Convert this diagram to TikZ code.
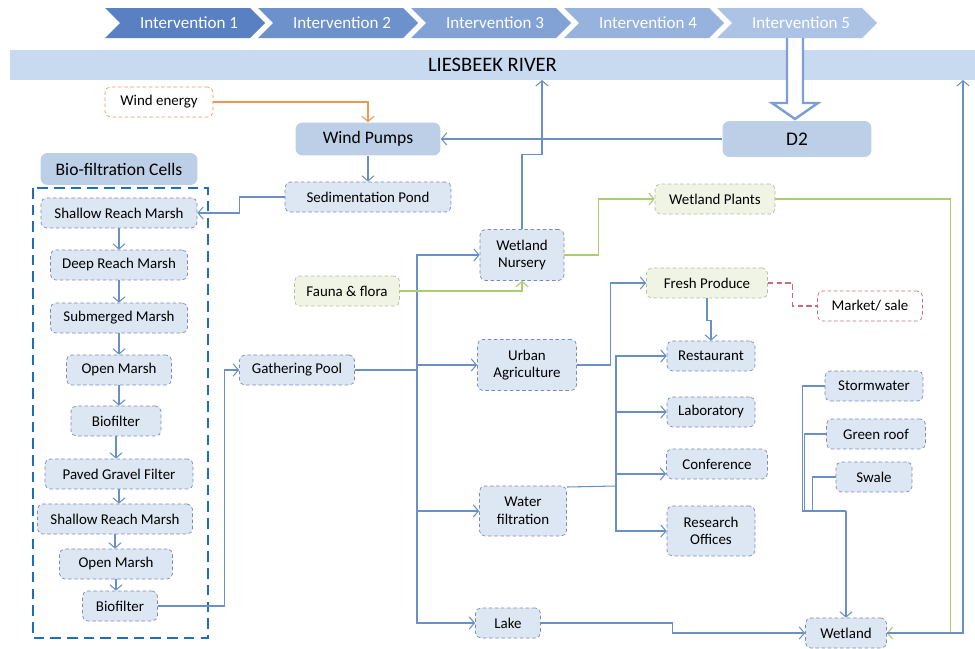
\documentclass[tikz,border=0pt]{standalone}
\usepackage{fontspec}
\setmainfont{Carlito}
\usetikzlibrary{arrows.meta}

\definecolor{flowblue}{RGB}{104,143,200}
\definecolor{boxfill}{RGB}{221,231,243}
\definecolor{boxedge}{RGB}{120,140,175}
\definecolor{headfill}{RGB}{188,207,231}
\definecolor{riverfill}{RGB}{200,218,240}
\definecolor{greenline}{RGB}{172,204,112}
\definecolor{greenedge}{RGB}{180,190,150}
\definecolor{greenfill}{RGB}{240,244,228}
\definecolor{orangeline}{RGB}{240,150,80}
\definecolor{rededge}{RGB}{205,105,115}
\definecolor{cellblue}{RGB}{30,110,190}
\definecolor{chevdark}{RGB}{88,128,194}
\definecolor{chevlight}{RGB}{172,195,230}
\definecolor{hollowedge}{RGB}{125,158,212}

\begin{document}
\begin{tikzpicture}[x=0.02cm,y=-0.02cm,font=\fontsize{8.5}{10}\selectfont,
  box/.style={draw=boxedge,dash pattern=on 2pt off 1.5pt,fill=boxfill,rounded corners=3pt,
    align=center,inner sep=1pt,minimum height=0.6cm},
  gbox/.style={box,draw=greenedge,fill=greenfill},
  head/.style={fill=headfill,rounded corners=4pt,font=\fontsize{10}{12}\selectfont},
  flow/.style={flowblue,line width=0.6pt,-{Straight Barb[length=3pt,width=7pt]}},
  gflow/.style={flow,greenline},
  link/.style={flowblue,line width=0.6pt}]
\useasboundingbox (0,0) rectangle (975,649);

% timeline of interventions
\foreach \i [evaluate=\i as \xa using 105+153*\i,
             evaluate=\i as \p using 100-25*\i,
             evaluate=\i as \n using int(\i+1)] in {0,...,4} {
  \fill[chevdark!\p!chevlight] (\xa,8) -- (\xa+145,8) -- (\xa+160,23) -- (\xa+145,38)
    -- (\xa,38) -- (\xa+15,23) -- cycle;
  \node[white,font=\fontsize{9.7}{12}\selectfont] (chev\n) at (\xa+84,23) {Intervention \n};
}

% the river
\node[fill=riverfill,minimum width=19.3cm,minimum height=0.6cm,inner sep=0pt,
  font=\fontsize{11.7}{14}\selectfont] (river) at (492.5,65) {LIESBEEK RIVER};
\coordinate (rivA) at (542,80);
\coordinate (rivB) at (963,80);

% hollow arrow down to D2
\filldraw[fill=white,draw=hollowedge,line width=1.4pt,line join=miter]
  (787,38) -- (787,103) -- (772,103) -- (795,119) -- (818,103) -- (803,103) -- (803,38);

\node[head,minimum width=2.98cm,minimum height=0.72cm,font=\fontsize{11}{13}\selectfont] (d2) at (797,139) {D2};
\node[head,minimum width=2.9cm,minimum height=0.66cm] (wpump) at (368,139) {Wind Pumps};
\node[head,minimum width=3.14cm,minimum height=0.64cm] (cells) at (119,169) {Bio-filtration Cells};
\node[box,draw=orangeline,fill=white,minimum width=2.16cm] (wind) at (159,102) {Wind energy};
\node[box,minimum width=3.32cm] (sed) at (368,197) {Sedimentation Pond};

% bio-filtration cells
\draw[cellblue,line width=1.7pt,dash pattern=on 6pt off 3.5pt] (33,188) rectangle (208,638);
\foreach \c/\x/\y/\w/\t in {c1/119/213/3.12/Shallow Reach Marsh, c2/119/265/2.74/Deep Reach Marsh,
    c3/119/318/2.74/Submerged Marsh, c4/119/370/2.1/Open Marsh, c5/116/421/1.8/Biofilter,
    c6/119/474/2.96/Paved Gravel Filter, c7/115/519/3.1/Shallow Reach Marsh,
    c8/116/564/2.26/Open Marsh, c9/120/606/1.5/Biofilter} {
  \node[box,minimum width=\w cm] (\c) at (\x,\y) {\t};
}
\foreach \a/\b in {c1/c2,c2/c3,c3/c4,c4/c5,c5/c6,c6/c7,c7/c8,c8/c9} {
  \draw[flow] (\a.south) -- (\a.south |- \b.north);
}

\node[box,minimum width=2.3cm] (gpool) at (297,370) {Gathering Pool};
\node[gbox,minimum width=2.1cm] (fauna) at (347,291) {Fauna \& flora};
\node[box,minimum width=1.68cm,minimum height=1.02cm] (nurs) at (522,255) {Wetland\\Nursery};
\node[box,minimum width=1.98cm,minimum height=1.02cm] (urb) at (527,365) {Urban\\Agriculture};
\node[box,minimum width=1.74cm,minimum height=1cm] (wf) at (523,511) {Water\\filtration};
\node[box,minimum width=1.3cm] (lake) at (508,623) {Lake};
\node[gbox,minimum width=2.4cm] (plants) at (715,199) {Wetland Plants};
\node[gbox,minimum width=2.42cm] (fresh) at (707,283) {Fresh Produce};
\node[box,draw=rededge,fill=white,minimum width=2.1cm] (market) at (870,306) {Market/ sale};
\node[box,minimum width=1.76cm] (rest) at (711,356) {Restaurant};
\node[box,minimum width=1.76cm] (lab) at (711,412) {Laboratory};
\node[box,minimum width=2.02cm] (conf) at (717,464) {Conference};
\node[box,minimum width=1.76cm,minimum height=1cm] (resoff) at (711,531) {Research\\Offices};
\node[box,minimum width=1.96cm] (storm) at (874,386) {Stormwater};
\node[box,minimum width=1.98cm] (groof) at (876,434) {Green roof};
\node[box,minimum width=1.52cm] (swale) at (874,477) {Swale};
\node[box,minimum width=1.62cm] (wetl) at (846,633) {Wetland};

% upper flows
\draw[flow,orangeline] (wind.east) -| (wpump.north);
\draw[flow] (d2.west) -- (wpump.east);
\draw[flow] (wpump.south) -- (sed.north);
\draw[flow] (sed.west) -- ++(-45,0) |- (c1.east);
\draw[flow] (c9.east) -- ++(67,0) |- (gpool.west);

% distribution from the gathering pool
\coordinate (trunk) at (417,370);
\draw[link] (gpool.east) -- (trunk);
\foreach \t in {nurs,urb,wf,lake} {
  \draw[flow] (trunk) |- (\t.west);
}
\draw[flow] (nurs.north) -- ++(0,-75) -| (rivA);
\draw[gflow] (fauna.east) -| (nurs.south);
\draw[gflow] (nurs.east) -- ++(34,0) |- (plants.west);
\draw[gflow] (plants.east) -- ++(175,0) |- (wetl.east);
\draw[flow] (urb.east) -- ++(34,0) |- (fresh.west);
\draw[flow] (fresh.south) -- ++(0,22) -| (rest.north);
\draw[rededge,line width=0.6pt,dash pattern=on 3pt off 2pt] (fresh.east) -- ++(25,0) |- (market.west);

% water filtration users
\coordinate (split) at (616,486);
\draw[link] ([yshift=0.48cm]wf.east) -- (split);
\draw[flow] (split) |- (rest.west);
\draw[flow] (split) |- (lab.west);
\draw[flow] (split) |- ([yshift=-0.2cm]conf.west);
\draw[flow] (split) |- (resoff.west);

% runoff into the wetland
\coordinate (sjoin) at (846,511);
\draw[link] (storm.west) -- ++(-22,0) |- (sjoin);
\draw[link] (groof.west) -- ++(-22,0) |- (sjoin);
\draw[link] (swale.west) -- ++(-23,0) |- (sjoin);
\draw[flow] (sjoin) -- (wetl.north);
\draw[flow] (lake.east) -- ++(132,0) |- (wetl.west);
\draw[flow] (wetl.east) -| (rivB);
\end{tikzpicture}
\end{document}
